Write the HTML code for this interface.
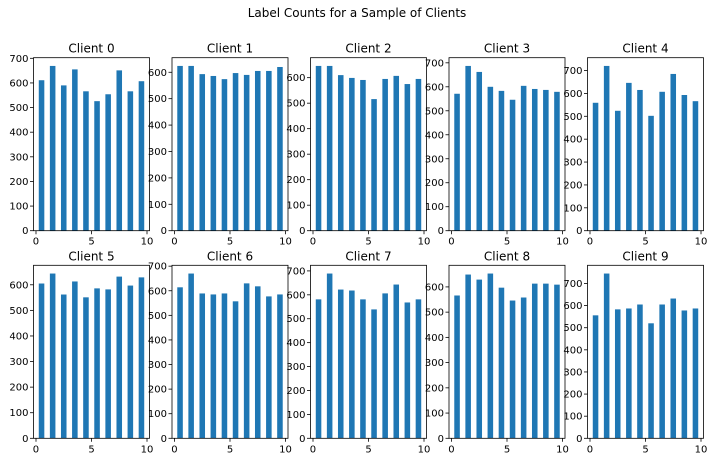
<!DOCTYPE html>
<html><head><meta charset="utf-8"><style>
body{margin:0;background:#fff;}
svg{display:block;font-family:"DejaVu Sans","Liberation Sans",sans-serif;}
</style></head><body>
<svg id="fig" width="714" height="462" viewBox="0 0 714 462">
<text x="357" y="17" text-anchor="middle" font-size="12" fill="#000">Label Counts for a Sample of Clients</text>
</svg>
<script>
const clientNames = ["Client 0","Client 1","Client 2","Client 3","Client 4","Client 5","Client 6","Client 7","Client 8","Client 9"];
const labels = [0,1,2,3,4,5,6,7,8,9];
const counts0 = [611,669,590,655,566,526,554,651,566,607];
const counts1 = [624,624,593,586,574,597,590,605,605,620];
const counts2 = [646,646,610,599,591,516,595,607,575,595];
const counts3 = [571,687,662,600,583,546,604,591,587,579];
const counts4 = [559,720,524,646,615,502,607,685,593,566];
const counts5 = [605,644,562,613,551,586,582,632,597,629];
const counts6 = [614,670,589,585,589,557,630,618,577,585];
const counts7 = [581,689,622,618,581,539,606,643,568,581];
const counts8 = [566,649,629,653,597,546,558,613,613,609];
const counts9 = [556,745,583,587,605,520,605,632,578,587];
const xTicks = [0,5,10];
const allCounts = [counts0,counts1,counts2,counts3,counts4,counts5,counts6,counts7,counts8,counts9];

const NS="http://www.w3.org/2000/svg";
const svg=document.getElementById('fig');
function mk(tag,attrs,parent){const e=document.createElementNS(NS,tag);for(const k in attrs)e.setAttribute(k,attrs[k]);(parent||svg).appendChild(e);return e;}
const lefts=[33.5,172,310.5,449,587.5], tops=[57.7,265.3], W=116, H=173;
allCounts.forEach((counts,i)=>{
  const L=lefts[i%5], T=tops[Math.floor(i/5)], B=T+H;
  const g=mk('g',{});
  
  
  const xmin=-0.225,xmax=10.225;
  const ymax=Math.max(...counts)*1.05;
  const sx=v=>L+(v-xmin)/(xmax-xmin)*W;
  const sy=v=>B-v/ymax*H;
  labels.forEach((lab,j)=>{
    const r=mk('rect',{x:sx(lab+0.25),y:sy(counts[j]),width:sx(lab+0.75)-sx(lab+0.25),height:B-sy(counts[j]),fill:'#1f77b4'},g);
    
    
  });
  const fr=mk('rect',{x:L,y:T,width:W,height:H,fill:'none',stroke:'#000','stroke-width':0.8},g);
  
  
  xTicks.forEach(t=>{
    const x=sx(t);
    mk('line',{x1:x,x2:x,y1:B,y2:B+3.5,stroke:'#000','stroke-width':0.8},g);
    const tx=mk('text',{x:x,y:B+14,'text-anchor':'middle','font-size':10,fill:'#000'},g);
    tx.textContent=t;
    
    
  });
  for(let v=0;v<=ymax;v+=100){
    const y=sy(v);
    mk('line',{x1:L-3.5,x2:L,y1:y,y2:y,stroke:'#000','stroke-width':0.8},g);
    const ty=mk('text',{x:L-5,y:y+3.5,'text-anchor':'end','font-size':10,fill:'#000'},g);
    ty.textContent=v;
    
    
  }
  const ti=mk('text',{x:L+W/2,y:T-5,'text-anchor':'middle','font-size':12,fill:'#000'},g);
  ti.textContent=clientNames[i];
  
  
});
</script>
</body></html>
